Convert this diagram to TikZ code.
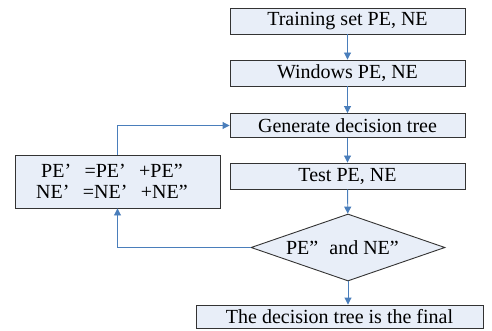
\documentclass[tikz,border=0pt]{standalone}
\usepackage{fontspec}
\setmainfont{Liberation Serif}
\usetikzlibrary{arrows.meta,shapes.geometric,positioning}
\definecolor{boxfill}{HTML}{E8EEF8}
\definecolor{boxline}{HTML}{333333}
\definecolor{arr}{HTML}{4A7EBB}
\newcommand{\fw}[1]{\makebox[1em][l]{#1}}
\begin{document}
\begin{tikzpicture}[x=1pt,y=-1pt,
  stepbox/.style={draw=boxline,fill=boxfill,line width=0.9pt,minimum width=235pt,minimum height=26pt,inner sep=0pt,font=\fontsize{20}{22}\selectfont},
  conn/.style={draw=arr,line width=0.9pt,-{Triangle[width=7pt,length=7pt]}},
  line/.style={draw=arr,line width=0.9pt}]
\useasboundingbox (0,0) rectangle (492,331);
\node[stepbox] (train) at (347.5,21) {Training set PE, NE};
\node[stepbox] (win) at (347.5,73) {Windows PE, NE};
\node[stepbox,minimum height=24pt] (gen) at (347.5,125.5) {Generate decision tree};
\node[stepbox] (test) at (347.5,176) {Test PE, NE};
\node[draw=boxline,fill=boxfill,line width=0.9pt,minimum width=205pt,minimum height=53pt,inner sep=0pt,align=left,font=\fontsize{20}{20.5}\selectfont] (upd) at (117.5,181.5) {\hspace{0.25em}PE\fw{’}=PE\fw{’}+PE\fw{”}\\NE\fw{’}=NE\fw{’}+NE\fw{”}};
\node[diamond,draw=boxline,fill=boxfill,line width=0.9pt,minimum width=194pt,minimum height=67pt,inner sep=0pt,aspect=2.9,font=\fontsize{20}{22}\selectfont] (dec) at (348,247.5) {PE\fw{”}and NE\fw{”}};
\node[stepbox,minimum width=287pt,minimum height=23pt] (final) at (339.5,316.5) {The decision tree is the final};
\draw[conn] (train) -- (win);
\draw[conn] (win) -- (gen);
\draw[conn] (gen) -- (test);
\draw[conn] (test) -- (dec);
\draw[conn] (dec.south) -- (dec.south |- final.north);
\draw[conn] (dec.west) -| (upd.south);
\draw[conn] (upd.north) |- (gen.west);
\end{tikzpicture}
\end{document}
